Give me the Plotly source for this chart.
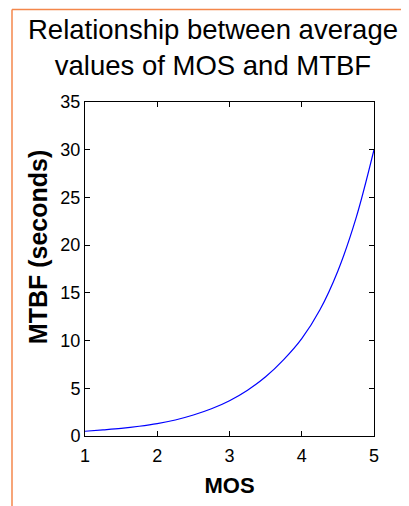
import plotly.graph_objects as go

mos = [1.0, 1.25, 1.5, 1.75, 2.0, 2.25, 2.5, 2.75, 3.0, 3.25, 3.5, 3.75, 4.0, 4.25, 4.5, 4.75, 5.0]
mtbf = [0.5, 0.64, 0.8, 1.02, 1.3, 1.68, 2.2, 2.85, 3.7, 4.8, 6.2, 8.0, 10.2, 13.2, 17.3, 22.8, 30.0]
x_ticks = [1, 2, 3, 4, 5]
y_ticks = [0, 5, 10, 15, 20, 25, 30, 35]

# page body has an 8px default margin; figure occupies screen (8,8)-(409,506)
OFF = 8
W, H = 409 - OFF, 506 - OFF
L, T = 85 - OFF, 102 - OFF
R = W - (374 - OFF)
B = H - (438 - OFF)
pw, ph = W - L - R, H - T - B

def px_x(sx):
    return (sx - OFF - L) / pw

def px_y(sy):
    return (H - B - (sy - OFF)) / ph

fig = go.Figure(go.Scatter(x=mos, y=mtbf, mode="lines",
                           line=dict(color="#0000ff", width=1.2, shape="spline")))

font = "Liberation Sans, Arial, sans-serif"
axis_common = dict(showline=True, linecolor="black", linewidth=1, mirror="ticks",
                   ticks="inside", ticklen=5, tickcolor="black", showgrid=False, zeroline=False,
                   tickfont=dict(family=font, size=18, color="black"))
fig.update_xaxes(range=[1, 5], tickvals=x_ticks, ticklabelstandoff=3,
                 title=dict(text="<b>MOS</b>", font=dict(family=font, size=22, color="black"), standoff=13),
                 **axis_common)
fig.update_yaxes(range=[0, 35], tickvals=y_ticks, **axis_common)

fig.update_layout(
    width=W, height=H, margin=dict(l=L, r=R, t=T, b=B),
    paper_bgcolor="white", plot_bgcolor="white", showlegend=False,
    title=dict(text="Relationship between average<br>values of MOS and MTBF",
               x=(213 - OFF) / W, xanchor="center",
               y=1 - (39 - OFF) / H, yanchor="top",
               font=dict(family=font, size=27.5, color="black")),
    annotations=[
        dict(text="<b>MTBF (seconds)</b>", xref="paper", yref="paper",
             x=px_x(38), y=px_y(248), xanchor="center", yanchor="middle",
             textangle=-90, showarrow=False,
             font=dict(family=font, size=25, color="black")),
    ],
    shapes=[
        dict(type="line", xref="paper", yref="paper", x0=px_x(12), x1=px_x(12),
             y0=px_y(520), y1=px_y(9), line=dict(color="#f4874b", width=1.5)),
        dict(type="line", xref="paper", yref="paper", x0=px_x(12), x1=px_x(420),
             y0=px_y(9), y1=px_y(9), line=dict(color="#f4874b", width=1.5)),
    ],
)
fig.write_html("out.html")
